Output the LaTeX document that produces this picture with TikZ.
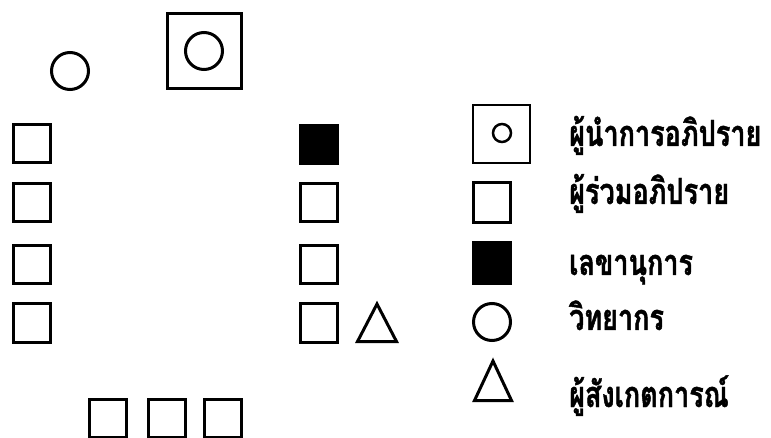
\documentclass[tikz,border=0pt]{standalone}
\usepackage{fontspec}
\newfontfamily\thaifont[Script=Thai,FakeStretch=0.75,BoldFeatures={FakeBold=1.2}]{Loma}
\begin{document}
\begin{tikzpicture}[x=1pt,y=-1pt,
  seat/.style={draw,line width=3pt,rectangle,minimum width=37pt,minimum height=38pt,inner sep=0pt,outer sep=0pt},
  sec/.style={seat,fill=black},
  ring/.style={draw,line width=3pt,circle,minimum size=37pt,inner sep=0pt,outer sep=0pt},
  lab/.style={anchor=base west,inner sep=0pt,font=\thaifont\bfseries\fontsize{36}{38}\selectfont},
  tri/.style={line width=3pt,line join=miter}]
\useasboundingbox (0,0) rectangle (771,438);
% speaker and chair
\node[ring] (spk) at (70,71) {};
\node[draw,line width=3pt,rectangle,minimum width=74pt,minimum height=75pt,inner sep=0pt] (chair) at (204.5,51) {};
\node[ring] (chairc) at (204,51) {};
% left column
\node[seat] (l1) at (32,143.5) {};
\node[seat] (l2) at (32,202.5) {};
\node[seat] (l3) at (32,265) {};
\node[seat] (l4) at (32,323) {};
% right column
\node[sec] (r1) at (319,144.5) {};
\node[seat] (r2) at (319,202.5) {};
\node[seat] (r3) at (319,265) {};
\node[seat] (r4) at (319,323) {};
\coordinate (obsA) at (377,304);
\draw[tri] (obsA) -- (357.5,341.5) -- (396.5,341.5) -- cycle;
% bottom row
\node[seat] (b1) at (108,418.5) {};
\node[seat] (b2) at (167,418.5) {};
\node[seat] (b3) at (223,418.5) {};
% legend
\node[draw,line width=2pt,rectangle,minimum width=57pt,minimum height=58pt,inner sep=0pt] (lg1) at (501.5,134) {};
\node[draw,line width=2.5pt,circle,minimum size=18pt,inner sep=0pt] (lg1c) at (502,133) {};
\node[seat,minimum height=40pt] (lg2) at (492,203) {};
\node[sec,minimum height=41pt] (lg3) at (492,263.5) {};
\node[ring] (lg4) at (492,322) {};
\coordinate (lgA) at (493,361);
\draw[tri] (lgA) -- (474.5,400.5) -- (511.5,400.5) -- cycle;
\node[lab] (t1) at (569,146) {ผู้นำการอภิปราย};
\node[lab] (t2) at (569,204) {ผู้ร่วมอภิปราย};
\node[lab] (t3) at (569,275) {เลขานุการ};
\node[lab] (t4) at (569,330) {วิทยากร};
\node[lab] (t5) at (569,407) {ผู้สังเกตการณ์};
\end{tikzpicture}
\end{document}
